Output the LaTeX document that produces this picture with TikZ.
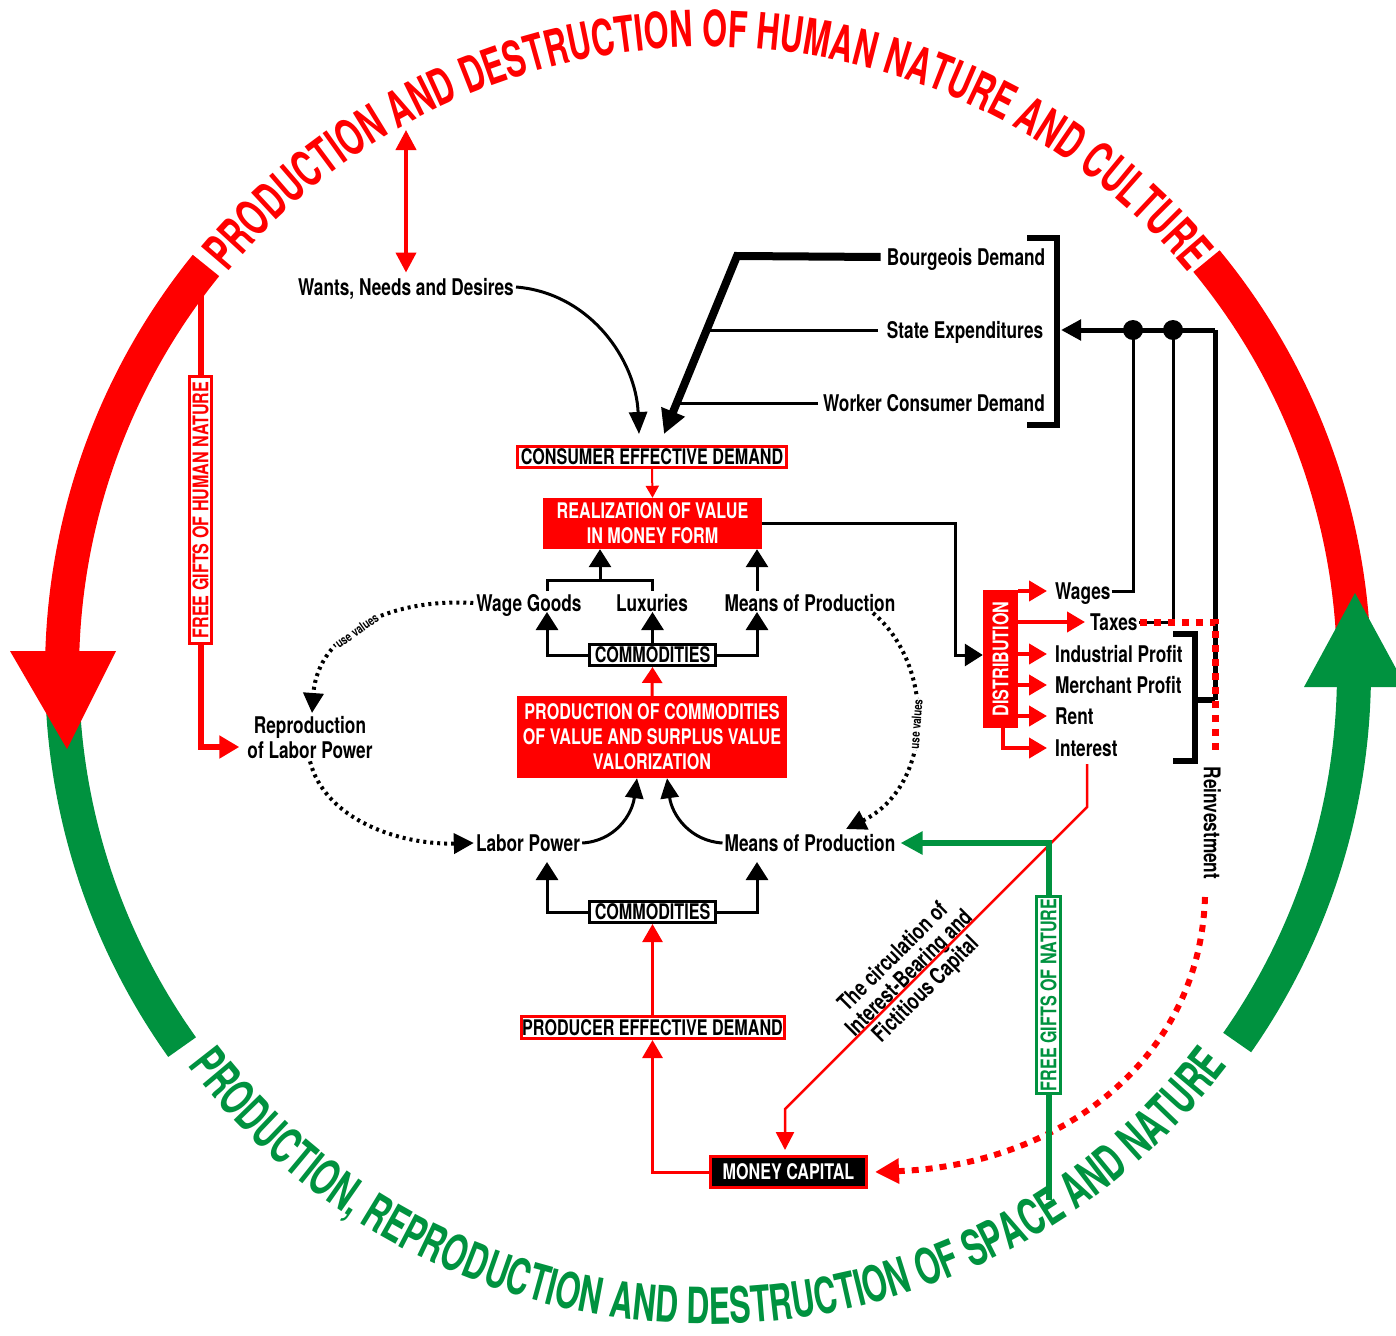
\documentclass[tikz,border=0pt]{standalone}
\usepackage{fontspec}
\usepackage{graphicx}
\setmainfont{TeX Gyre Heros}[FakeStretch=0.75]
\newfontfamily\arcfont{TeX Gyre Heros}[FakeStretch=0.64]
\usetikzlibrary{arrows.meta,decorations.text}
\definecolor{myred}{RGB}{255,0,0}
\definecolor{mygreen}{RGB}{0,146,63}
\newcommand{\lblfont}{\fontsize{23}{25}\selectfont\bfseries}
\newcommand{\bxfont}{\fontsize{21.5}{25}\selectfont\bfseries}
\newcommand{\uvfont}{\fontsize{13}{13}\selectfont\bfseries}
\begin{document}
\begin{tikzpicture}[x=1pt,y=-1pt,
  lbl/.style={font=\lblfont, inner sep=0pt, text height=16.5pt, text depth=0pt},
  mlbl/.style={font=\lblfont, inner sep=0pt, align=center},
  redfill/.style={font=\bxfont, inner sep=0pt, align=center, fill=myred, text=white},
  redframe/.style={font=\bxfont, inner sep=0pt, align=center, draw=myred, line width=3pt, fill=white, text=black},
  blkframe/.style={font=\bxfont, inner sep=0pt, align=center, draw=black, line width=3pt, fill=white, text=black},
  ring/.style={line width=34pt},
  blk/.style={draw=black, line width=3pt},
  blkarr/.style={blk, -{Triangle[width=22pt,length=18pt]}},
  redln/.style={draw=myred, line width=3pt},
  redarr/.style={redln, -{Triangle[width=20pt,length=18pt]}},
  dots/.style={draw=black, line width=4pt, dash pattern=on 3pt off 4pt},
  reddots/.style={draw=myred, line width=7pt, dash pattern=on 7pt off 7pt},
]
\useasboundingbox (0,0) rectangle (1396,1335);
\coordinate (C) at (708,672);
% ---------- ring ----------
\draw[ring, myred] (C) ++(-39.5:646) arc[start angle=-39.5, end angle=-3, radius=646];
\draw[ring, mygreen] (C) ++(-182:646) arc[start angle=-182, end angle=-215.5, radius=646];
\draw[ring, myred] (C) ++(-141:646) arc[start angle=-141, end angle=-179.5, radius=646];
\fill[myred] (10,651) -- (116,651) -- (67,749) -- cycle;
\draw[ring, mygreen] (C) ++(35:646) arc[start angle=35, end angle=0.5, radius=646];
\fill[mygreen] (1304,687) -- (1406,687) -- (1355,593) -- cycle;
\path[decorate, decoration={text along path, text align=center,
  text={|\arcfont\bfseries\fontsize{50}{50}\selectfont\color{myred}|PRODUCTION AND DESTRUCTION OF HUMAN NATURE AND CULTURE}}]
  (166.7,359.5) arc[start angle=-150, end angle=-30, radius=625];
\path[decorate, decoration={text along path, text align=center,
  text={|\arcfont\bfseries\fontsize{50}{50}\selectfont\color{mygreen}|PRODUCTION, REPRODUCTION AND DESTRUCTION OF SPACE AND NATURE}}]
  (117.1,947.5) arc[start angle=155, end angle=25, radius=652];
% ---------- nodes ----------
\node[lbl] (wants) at (406,287) {Wants, Needs and Desires};
\node[lbl] (bourg) at (966,257) {Bourgeois Demand};
\node[lbl] (state) at (965,330) {State Expenditures};
\node[lbl] (worker) at (934,403) {Worker Consumer Demand};
\node[redframe, minimum width=269pt, minimum height=21pt] (ced) at (652,457) {CONSUMER EFFECTIVE DEMAND};
\node[redfill, minimum width=219pt, minimum height=51pt] (real) at (652.5,523.5) {REALIZATION OF VALUE\\IN MONEY FORM};
\node[lbl] (wage) at (529,603) {Wage Goods};
\node[lbl] (lux) at (652,603) {Luxuries};
\node[lbl] (mopa) at (810,603) {Means of Production};
\node[blkframe, minimum width=126pt, minimum height=21pt] (coma) at (652.5,655) {COMMODITIES};
\node[redfill, minimum width=270pt, minimum height=82pt] (prod) at (652,737) {PRODUCTION OF COMMODITIES\\OF VALUE AND SURPLUS VALUE\\VALORIZATION};
\node[lbl] (labor) at (528,843) {Labor Power};
\node[lbl] (mopb) at (810,843) {Means of Production};
\node[blkframe, minimum width=126pt, minimum height=21pt] (comb) at (652.5,912) {COMMODITIES};
\node[redframe, minimum width=263pt, minimum height=22pt] (ped) at (652.5,1027.5) {PRODUCER EFFECTIVE DEMAND};
\node[redframe, fill=black, text=white, minimum width=156pt, minimum height=31pt] (money) at (788.5,1172) {MONEY CAPITAL};
\node[mlbl] (repro) at (310,738) {Reproduction\\of Labor Power};
\node[redfill, minimum width=35pt, minimum height=138pt] (dist) at (1000.5,659) {\rotatebox{90}{DISTRIBUTION}};
\node[redframe, text=myred, minimum width=22pt, minimum height=267pt] (fghn) at (200.5,510) {\rotatebox{90}{FREE GIFTS OF HUMAN NATURE}};
\node[redframe, draw=mygreen, text=mygreen, minimum width=24pt, minimum height=197pt] (fgn) at (1048.5,995) {\rotatebox{90}{FREE GIFTS OF NATURE}};
\node[lbl, anchor=west] (wages) at (1055,591) {Wages};
\node[lbl, anchor=west] (taxes) at (1090,622) {Taxes};
\node[lbl, anchor=west] (indp) at (1055,654) {Industrial Profit};
\node[lbl, anchor=west] (merp) at (1055,685) {Merchant Profit};
\node[lbl, anchor=west] (rent) at (1055,716) {Rent};
\node[lbl, anchor=west] (intr) at (1055,748) {Interest};
\node[lbl, rotate=-90] (reinv) at (1212,823) {Reinvestment};
\node[mlbl, rotate=45, font=\fontsize{23}{23}\selectfont\bfseries] (circ) at (910,974) {The circulation of\\Interest-Bearing and\\Fictitious Capital};
% ---------- connectors ----------
\coordinate (topA) at (406,130);
\draw[redln, line width=4pt, {Triangle[width=20pt,length=20pt]}-{Triangle[width=20pt,length=20pt]}] (topA) -- ([yshift=6pt]wants.north);
\coordinate (tipW) at (639,434);
\draw[blk, -{Triangle[width=18pt,length=22pt]}] ([xshift=2pt]wants.east) .. controls (590,293) and (636,360) .. (tipW);
\coordinate (bc) at (737,256);
\coordinate (tipB) at (664,434);
\draw[line width=8pt, line join=miter, -{Triangle[width=24pt,length=24pt]}] ([xshift=-6pt]bourg.west) -- (bc) -- (tipB);
\coordinate (sj) at (707,330);
\coordinate (wj) at (678,403);
\draw[blk] ([xshift=-9pt]state.west) -- (sj);
\draw[blk] ([xshift=-5pt]worker.west) -- (wj);
\draw[line width=6pt] (1027,238) -- (1057,238) -- (1057,425) -- (1027,425);
\coordinate (rc) at (1215,330);
\coordinate (brk) at (1061,330);
\coordinate (dA) at (1133,330);
\coordinate (dB) at (1173,330);
\coordinate (pj) at (1215,700);
\draw[line width=5pt, -{Triangle[width=20pt,length=20pt]}] (rc) -- (brk);
\draw[line width=5pt] (rc) -- (pj);
\fill (dA) circle[radius=10pt];
\fill (dB) circle[radius=10pt];
\draw[blk] ([xshift=1pt]wages.east) -| (dA);
\draw[blk] ([xshift=1pt]taxes.east) -| (dB);
\draw[line width=6pt] (1173,634) -- (1195,634) -- (1195,761) -- (1173,761);
\draw[line width=6pt] (1195,700) -- (pj);
\coordinate (rdEnd) at (1215,750);
\draw[reddots] ([xshift=2pt]taxes.east) -| (rdEnd);
\coordinate (rvs) at (1205,897);
\draw[reddots, line width=6pt, -{Triangle[width=24pt,length=24pt]}] (rvs) .. controls (1200,1060) and (1060,1165) .. ([xshift=7pt]money.east);
% realization -> distribution
\coordinate (rd) at (955,523.5);
\draw[blkarr] (real.east) -- (rd) |- ([yshift=4pt]dist.west);
\foreach \n/\s in {wages/8pt, taxes/5pt, indp/8pt, merp/8pt, rent/8pt}
  \draw[redarr, line width=4pt] (dist.east |- \n) -- ([xshift=-\s]\n.west);
\draw[redarr, line width=4pt] ([xshift=2pt]dist.south) |- ([xshift=-8pt]intr.west);
% CED -> realization
\draw[redln, line width=2pt, -{Triangle[width=13pt,length=12pt]}] (ced.south) -- (real.north);
% goods -> realization
\coordinate (wk) at (547,591);
\coordinate (lk) at (652,591);
\coordinate (mid) at (600,580);
\coordinate (mk) at (757,591);
\draw[blk] (wk) |- (mid) -| (lk);
\draw[blkarr] (mid) -- (mid |- real.south);
\draw[blkarr] (mk) -- (mk |- real.south);
% upper commodities
\coordinate (wt) at (547,612);
\coordinate (lt) at (652.5,612);
\coordinate (mt) at (757,612);
\draw[blkarr] (coma.west) -| (wt);
\draw[blkarr] (coma.north) -- (lt);
\draw[blkarr] (coma.east) -| (mt);
\draw[redln, -{Triangle[width=20pt,length=16pt]}] (prod.north) -- (coma.south);
% labour power and means of production -> production
\draw[blk, -{Triangle[width=18pt,length=20pt]}] ([xshift=2pt]labor.east) .. controls (615,841) and (632,815) .. ([xshift=-15pt]prod.south);
\draw[blk, -{Triangle[width=18pt,length=20pt]}] ([xshift=-2pt]mopb.west) .. controls (690,841) and (672,815) .. ([xshift=15pt]prod.south);
% lower commodities
\coordinate (lt2) at (547,862);
\coordinate (mt2) at (757,862);
\draw[blkarr] (comb.west) -| (lt2);
\draw[blkarr] (comb.east) -| (mt2);
\draw[redln, line width=2.5pt, -{Triangle[width=20pt,length=18pt]}] (ped.north) -- (comb.south);
\draw[redarr] (money.west) -| (ped.south);
% interest circulation
\coordinate (i0) at (1087,764);
\coordinate (ia) at (1087,807);
\coordinate (ib) at (785,1109);
\draw[redln, line width=2.5pt, -{Triangle[width=18pt,length=18pt]}] (i0) -- (ia) -- (ib) -- ([yshift=5pt]ib |- money.north);
% free gifts of nature
\coordinate (gbot) at (1048.5,1200);
\draw[draw=mygreen, line width=6pt] (gbot) -- (fgn.south);
\draw[draw=mygreen, line width=6pt, -{Triangle[width=22pt,length=22pt]}] (fgn.north) |- ([xshift=5pt]mopb.east);
% free gifts of human nature
\coordinate (rtop) at (200.5,285);
\draw[redln, line width=6pt] (rtop) -- (fghn.north);
\draw[redln, line width=6pt, -{Triangle[width=22pt,length=20pt]}] (fghn.south) |- ([xshift=-8pt,yshift=-9pt]repro.west);
% use values
\coordinate (rtip) at (312,713);
\draw[dots, -{Triangle[width=20pt,length=20pt]}] ([xshift=-3pt]wage.west) .. controls (395,598) and (318,630) .. (rtip)
  node[pos=0.55, sloped, fill=white, inner sep=1pt, font=\uvfont] (uva) {use values};
\draw[dots, -{Triangle[width=20pt,length=20pt]}] ([yshift=-2pt]repro.south) .. controls (325,820) and (400,845) .. ([xshift=-2pt]labor.west);
\coordinate (rs) at (873,613);
\coordinate (re) at (846,829);
\draw[dots, -{Triangle[width=20pt,length=20pt]}] (rs) .. controls (935,665) and (935,785) .. (re)
  node[pos=0.5, sloped, fill=white, inner sep=1pt, font=\uvfont] (uvb) {use values};
\end{tikzpicture}
\end{document}
